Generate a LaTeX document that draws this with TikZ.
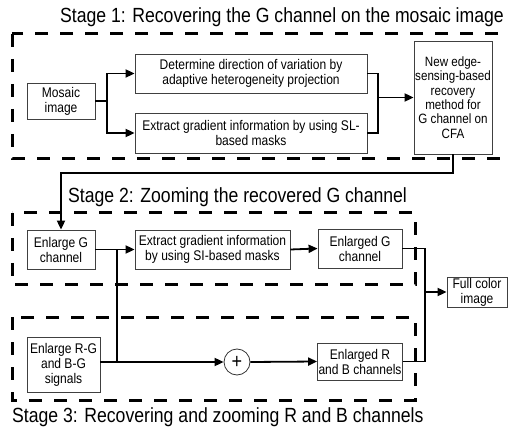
\documentclass[tikz,border=0pt]{standalone}
\usepackage{fontspec}
\setmainfont[FakeStretch=0.86]{Liberation Sans}
\usetikzlibrary{arrows.meta,calc}
\begin{document}
\begin{tikzpicture}[x=1pt,y=-1pt,
 box/.style={draw=black!75,line width=0.8pt,align=center,inner sep=1pt,font=\fontsize{14}{15}\selectfont},
 conn/.style={line width=1.8pt},
 arr/.style={conn,-{Triangle[length=9pt,width=8pt]}},
 stagebox/.style={line width=3pt,dash pattern=on 13pt off 12pt},
 title/.style={font=\fontsize{20.5}{22}\selectfont,inner sep=0pt,anchor=base west}]
\useasboundingbox (0,0) rectangle (508,435);
% stage frames
\draw[stagebox] (12,34) rectangle (530,159);
\draw[stagebox] (12,213) rectangle (415,285);
\draw[stagebox] (12,317) rectangle (415,400);
% titles
\node[title] (t1) at (60,23) {Stage 1: Recovering the G channel on the mosaic image};
\node[title] (t2) at (68,203) {Stage 2: Zooming the recovered G channel};
\node[title] (t3) at (12,422) {Stage 3: Recovering and zooming R and B channels};
% boxes
\node[box,minimum width=68pt,minimum height=36pt] (mosaic) at (61,101) {Mosaic\\image};
\node[box,minimum width=232pt,minimum height=39pt] (det) at (251,73.5) {Determine direction of variation by\\adaptive heterogeneity projection};
\node[box,minimum width=232pt,minimum height=40pt] (ext1) at (251,133) {Extract gradient information by using SL-\\based masks};
\node[box,minimum width=78pt,minimum height=113pt,font=\fontsize{13.5}{14.4}\selectfont] (newedge) at (453,97.5) {New edge-\\sensing-based\\recovery\\method for\\G channel on\\CFA};
\node[box,minimum width=68pt,minimum height=39pt] (enlG) at (61,249.5) {Enlarge G\\channel};
\node[box,minimum width=155pt,minimum height=39pt] (ext2) at (212.5,249.5) {Extract gradient information\\by using SI-based masks};
\node[box,minimum width=84pt,minimum height=39pt] (enlargedG) at (360,248.5) {Enlarged G\\channel};
\node[box,minimum width=60pt,minimum height=30pt] (full) at (477,292) {Full color\\image};
\node[box,minimum width=73pt,minimum height=55pt] (enlRG) at (63.5,364.5) {Enlarge R-G\\and B-G\\signals};
\node[draw=black!80,line width=0.8pt,circle,minimum size=26pt,inner sep=0pt,font=\fontsize{21}{21}\selectfont] (plus) at (237,362) {+};
\node[box,minimum width=84pt,minimum height=37pt] (enlR) at (360,361.5) {Enlarged R\\and B channels};
% connectors stage 1
\coordinate (j1) at (107,101);
\draw[conn] (mosaic.east) -- (j1);
\draw[arr] (j1) |- (det.west);
\draw[arr] (j1) |- (ext1.west);
\coordinate (j2) at (378,97.5);
\draw[conn] (det.east) -| (j2);
\draw[conn] (ext1.east) -| (j2);
\draw[arr] (j2) -- (newedge.west);
\coordinate (c3) at (453,173);
\draw[arr] (newedge.south) -- (c3) -| (enlG.north);
% stage 2 / 3
\coordinate (j3) at (117,249.5);
\draw[conn] (enlG.east) -- (j3);
\draw[arr] (j3) -- (ext2.west);
\draw[conn] (j3) -- (j3 |- plus.west);
\draw[arr] (enlRG.east |- plus.west) -- (plus.west);
\draw[arr] (ext2.east) -- (enlargedG.west);
\draw[arr] (plus.east) -- (enlR.west);
\coordinate (j4) at (425,292);
\draw[conn] (enlargedG.east) -| (j4);
\draw[conn] (enlR.east) -| (j4);
\draw[arr] (j4) -- (full.west);
\end{tikzpicture}
\end{document}
